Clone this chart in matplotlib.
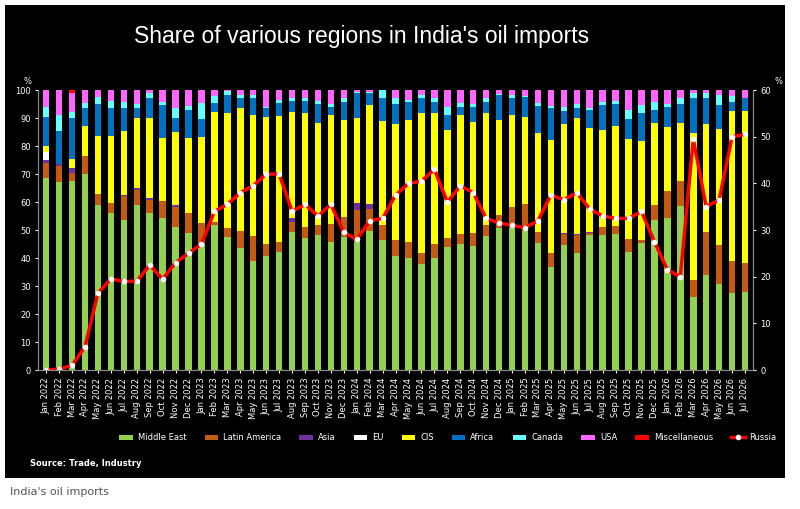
import numpy as np
import pandas as pd
import matplotlib
matplotlib.use("Agg")
import matplotlib.pyplot as plt
from matplotlib.patches import Rectangle

months = pd.date_range("2022-01", "2026-07", freq="MS").strftime("%b %Y").tolist()

# shares (cumulative tops where named *_top)
middle_east = [68.5, 67, 67.5, 70, 59, 56, 53.5, 59, 56, 54.4,
               51, 49, 45, 51.8, 47.6, 43.5, 39, 40.7, 42, 49.4,
               47, 48.2, 45.8, 47.6, 45.8, 49.6, 46.4, 40.7, 40.2, 38,
               40, 44, 45, 44.3, 47.9, 50.6, 50.6, 49.6, 45.5, 36.9,
               44.6, 41.7, 48.2, 48.2, 48.6, 42.3, 45.5, 53.6, 54.2, 58.6,
               26.2, 33.9, 30.7, 27.6, 28]
latam_top = [74, 73, 70.5, 76.5, 63, 59.5, 62, 64.3, 60.7, 60.5,
             58.3, 56, 52.4, 53, 50.6, 49.8, 47.9, 45.2, 45.6, 53,
             51.2, 51.8, 52, 54.8, 57, 57.4, 51.8, 46.4, 45.8, 41.7,
             45.2, 47.3, 48.6, 48.8, 51.8, 55.4, 58.3, 59.3, 49.4, 41.7,
             48.6, 48.2, 49, 51.2, 51.4, 46.7, 46.4, 58.9, 63.9, 67.5,
             32.1, 49.2, 44.6, 38.9, 38.1]
asia = [1, 0.5, 1.5, 0, 0, 0.3, 0.4, 0.6, 0.8, 0,
        0.8, 0, 0, 0, 0, 0, 0, 0, 0, 1.4,
        0, 0, 0, 0, 2.5, 1.9, 0, 0, 0, 0,
        0, 0, 0, 0, 0, 0, 0, 0, 0, 0,
        0.5, 0.5, 0.3, 0, 0, 0, 0, 0, 0, 0,
        0, 0, 0, 0, 0]
eu = [3] + [0] * 54
cis_top = [80, 73.5, 75.5, 87, 83.5, 83.5, 85.5, 90, 90, 83,
           85, 83, 83.3, 92, 91.7, 93.5, 91, 90.5, 90.7, 92,
           91.7, 88.3, 91, 89.3, 90, 94.6, 89, 88, 89.3, 91.7,
           91.7, 85.7, 91, 88.7, 91.7, 89.3, 91, 90.5, 84.5, 82,
           88, 89.9, 86.3, 85.7, 87.1, 82.7, 81.9, 88.3, 86.7, 88.3,
           84.5, 88, 86, 92.5, 92.6]
africa_top = [90.5, 85.5, 90, 93.5, 95, 93.5, 93.7, 93.7, 97, 94.6,
              90, 92.9, 89.6, 95.5, 98.2, 97, 97, 93.5, 95.5, 96,
              96, 95.2, 94, 95.8, 98.8, 98.8, 97, 95.2, 95.8, 97,
              95.8, 91, 94, 94, 95.8, 98.2, 97, 97.6, 94.3, 93.5,
              92.6, 93.5, 92.9, 94.6, 95, 89.6, 91.7, 92.9, 94, 95.2,
              97, 97, 94.6, 95.8, 97]
canada_top = [94, 91, 92, 95.5, 97.5, 96, 95.8, 95, 98.8, 95.8,
              93.5, 94.3, 95.5, 98, 99.8, 98.2, 98.2, 94, 96.5, 97,
              97, 96, 95.2, 97, 99.2, 99.2, 100, 97, 96.4, 98.2,
              97, 94, 95.5, 95, 97, 98.6, 98.2, 98, 95.5, 94.3,
              94, 95, 93.5, 95.8, 96, 92.9, 94.6, 95.8, 95.2, 97,
              98.8, 98.8, 98.2, 97.9, 97.2]
misc = [0, 0, 1] + [0] * 52
russia = [0, 0.2, 1, 5, 16.5, 19.5, 19, 19, 22.5, 19.5,
          23, 25, 27, 34, 35.5, 38, 39.5, 42, 42, 34,
          35.5, 33, 35.5, 29.5, 28, 32, 32.5, 37.5, 40, 40.5,
          43, 36, 39.5, 38, 32.5, 31.5, 31, 30.5, 32, 37.5,
          36.5, 38, 34.5, 33, 32.5, 32.5, 34, 27.5, 21.5, 20,
          49.5, 35, 36.5, 50, 50.5]

me = np.array(middle_east)
lat = np.array(latam_top)
shares = {
    "Middle East": me,
    "Latin America": lat - me,
    "Asia": np.array(asia),
    "EU": np.array(eu),
    "CIS": np.array(cis_top) - lat - np.array(asia) - np.array(eu),
    "Africa": np.array(africa_top) - np.array(cis_top),
    "Canada": np.array(canada_top) - np.array(africa_top),
    "USA": 100 - np.array(canada_top) - np.array(misc),
    "Miscellaneous": np.array(misc),
}
colors = ["#92D050", "#C55A11", "#7030A0", "#FFFFFF", "#FFFF00",
          "#0070C0", "#66FFFF", "#FF66FF", "#FF0000"]

fig = plt.figure(figsize=(8, 5.09), dpi=100)
fig.patches.append(Rectangle((0.006, 0.06), 0.975, 0.93, transform=fig.transFigure,
                             facecolor="black", zorder=-1))
ax = fig.add_axes([0.048, 0.273, 0.893, 0.55])
ax.set_facecolor("black")

x = np.arange(len(months))
bottom = np.zeros(len(months))
for (name, vals), c in zip(shares.items(), colors):
    ax.bar(x, vals, bottom=bottom, width=0.5, color=c, label=name)
    bottom += vals

ax2 = ax.twinx()
ax2.plot(x, russia, color="#FF0000", lw=2.5, marker="o", ms=3,
         markerfacecolor="white", markeredgecolor="white", label="Russia")

ax.set_ylim(0, 100)
ax2.set_ylim(0, 60)
ax.set_xlim(-0.6, len(months) - 0.4)
ax.set_yticks(range(0, 101, 10))
ax2.set_yticks(range(0, 61, 10))
ax.set_xticks(x)
ax.set_xticklabels(months, rotation=90, fontsize=5.5, color="white")
for a in (ax, ax2):
    a.tick_params(colors="white", labelsize=6, length=2)
    for s in a.spines.values():
        s.set_color("#888888")
    a.spines["top"].set_visible(False)
ax.text(-0.01, 1.02, "%", transform=ax.transAxes, color="white", fontsize=6, ha="right")
ax2.text(1.03, 1.02, "%", transform=ax.transAxes, color="white", fontsize=6)

fig.text(0.452, 0.915, "Share of various regions in India's oil imports", color="white",
         fontsize=16.5, ha="center", fontname="Liberation Sans")

h1, l1 = ax.get_legend_handles_labels()
h2, l2 = ax2.get_legend_handles_labels()
fig.legend(h1 + h2, l1 + l2, loc="center", bbox_to_anchor=(0.56, 0.14), ncol=10,
           frameon=False, fontsize=6, labelcolor="white", handlelength=1.6,
           handleheight=0.6, handletextpad=0.6, columnspacing=2.2)
fig.text(0.038, 0.085, "Source: Trade, Industry", color="white", fontsize=6, fontweight="bold")
fig.text(0.012, 0.028, "India's oil imports", color="#555555", fontsize=8)

fig.savefig("out.png", dpi=100)
